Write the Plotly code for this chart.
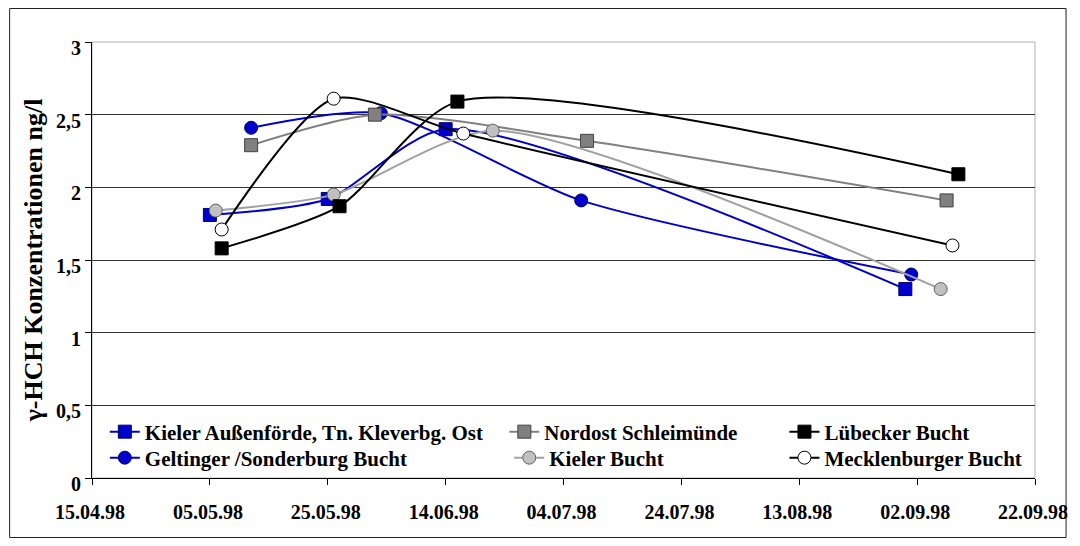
import plotly.graph_objects as go

# ---- data ----
ka_dates = ["1998-05-05", "1998-05-25", "1998-06-14", "1998-08-31"]
ka_vals = [1.81, 1.92, 2.40, 1.30]

gs_dates = ["1998-05-12", "1998-06-03", "1998-07-07", "1998-09-01"]
gs_vals = [2.41, 2.51, 1.91, 1.40]

ns_dates = ["1998-05-12", "1998-06-02", "1998-07-08", "1998-09-07"]
ns_vals = [2.29, 2.50, 2.32, 1.91]

kb_dates = ["1998-05-06", "1998-05-26", "1998-06-22", "1998-09-06"]
kb_vals = [1.84, 1.95, 2.39, 1.30]

lb_dates = ["1998-05-07", "1998-05-27", "1998-06-16", "1998-09-09"]
lb_vals = [1.58, 1.87, 2.59, 2.09]

mb_dates = ["1998-05-07", "1998-05-26", "1998-06-17", "1998-09-08"]
mb_vals = [1.71, 2.61, 2.37, 1.60]

names = ["Kieler Außenförde, Tn. Kleverbg. Ost", "Geltinger /Sonderburg Bucht",
         "Nordost Schleimünde", "Kieler Bucht",
         "Lübecker Bucht", "Mecklenburger Bucht"]

x_range = ["1998-04-15", "1998-09-22"]
y_ticks = [0, 0.5, 1, 1.5, 2, 2.5, 3]

FONT = "Liberation Serif"

fig = go.Figure()

def add(x, y, name, lcolor, msym, mfill, mline, legend, lw=2):
    fig.add_trace(go.Scatter(
        x=x, y=y, name=name, mode="lines+markers",
        line=dict(color=lcolor, width=lw, shape="spline", smoothing=0.7),
        marker=dict(symbol=msym, size=13, color=mfill, line=dict(color=mline, width=1)),
        legend=legend,
    ))

add(ka_dates, ka_vals, names[0], "#0000CC", "square", "#0000CC", "#000066", "legend")
add(gs_dates, gs_vals, names[1], "#0000CC", "circle", "#0000CC", "#000066", "legend2")
add(ns_dates, ns_vals, names[2], "#808080", "square", "#808080", "#404040", "legend3")
add(kb_dates, kb_vals, names[3], "#A0A0A0", "circle", "#C0C0C0", "#606060", "legend4")
add(lb_dates, lb_vals, names[4], "#000000", "square", "#000000", "#000000", "legend5")
add(mb_dates, mb_vals, names[5], "#000000", "circle", "#FFFFFF", "#000000", "legend6")

# figure sits inside the page's 8px body margin
W, H = 1072, 530
L, R, T, B = 84, 32, 34, 60
PW, PH = W - L - R, H - T - B

def px(xp):  # page x -> paper
    return (xp - 8 - L) / PW

def py(yp):  # page y -> paper
    return (H - B - (yp - 8)) / PH

def legend_at(xp, yp):
    return dict(orientation="v", yanchor="middle", xanchor="left",
                x=px(xp), y=py(yp),
                bgcolor="rgba(255,255,255,0)", borderwidth=0,
                font=dict(family=FONT, size=21, color="black", weight="bold"),
                itemwidth=30)

fig.update_layout(
    width=W, height=H,
    margin=dict(l=L, r=R, t=T, b=B),
    paper_bgcolor="white", plot_bgcolor="white",
    separators=", ",
    font=dict(family=FONT, size=20, color="black", weight="bold"),
    showlegend=True,
    legend=legend_at(105, 432),
    legend2=legend_at(105, 458),
    legend3=legend_at(510, 432),
    legend4=legend_at(515, 458),
    legend5=legend_at(794, 432),
    legend6=legend_at(794, 458),
    xaxis=dict(
        type="date", range=x_range, tick0=x_range[0], dtick=20 * 86400000,
        tickformat="%d.%m.%y", showgrid=False, zeroline=False,
        showline=True, linecolor="black", linewidth=1,
        ticks="outside", ticklen=6, tickcolor="black",
        ticklabelstandoff=10, ticklabelshift=-2, ticklabeloverflow="allow",
        tickfont=dict(family=FONT, size=20, color="black", weight="bold"),
    ),
    yaxis=dict(
        range=[0, 3], tickvals=y_ticks, showgrid=True, gridcolor="#333333", gridwidth=1,
        zeroline=False, showline=True, linecolor="black", linewidth=1,
        ticks="outside", ticklen=6, tickcolor="black",
        ticklabelstandoff=0, ticklabelshift=6,
        tickfont=dict(family=FONT, size=20, color="black", weight="bold"),
        title=dict(text="γ-HCH Konzentrationen ng/l",
                   font=dict(family=FONT, size=26, color="black", weight="bold"),
                   standoff=5),
    ),
    shapes=[
        dict(type="rect", xref="paper", yref="paper", x0=0, x1=1, y0=0, y1=1,
             line=dict(color="#B0B0B0", width=1), layer="below"),
        dict(type="rect", xref="paper", yref="paper", x0=px(8.5), x1=px(1079.5),
             y0=py(537.5), y1=py(8.5), line=dict(color="#202020", width=1), layer="below"),
    ],
)

fig.write_html("out.html", config={"displayModeBar": False})
